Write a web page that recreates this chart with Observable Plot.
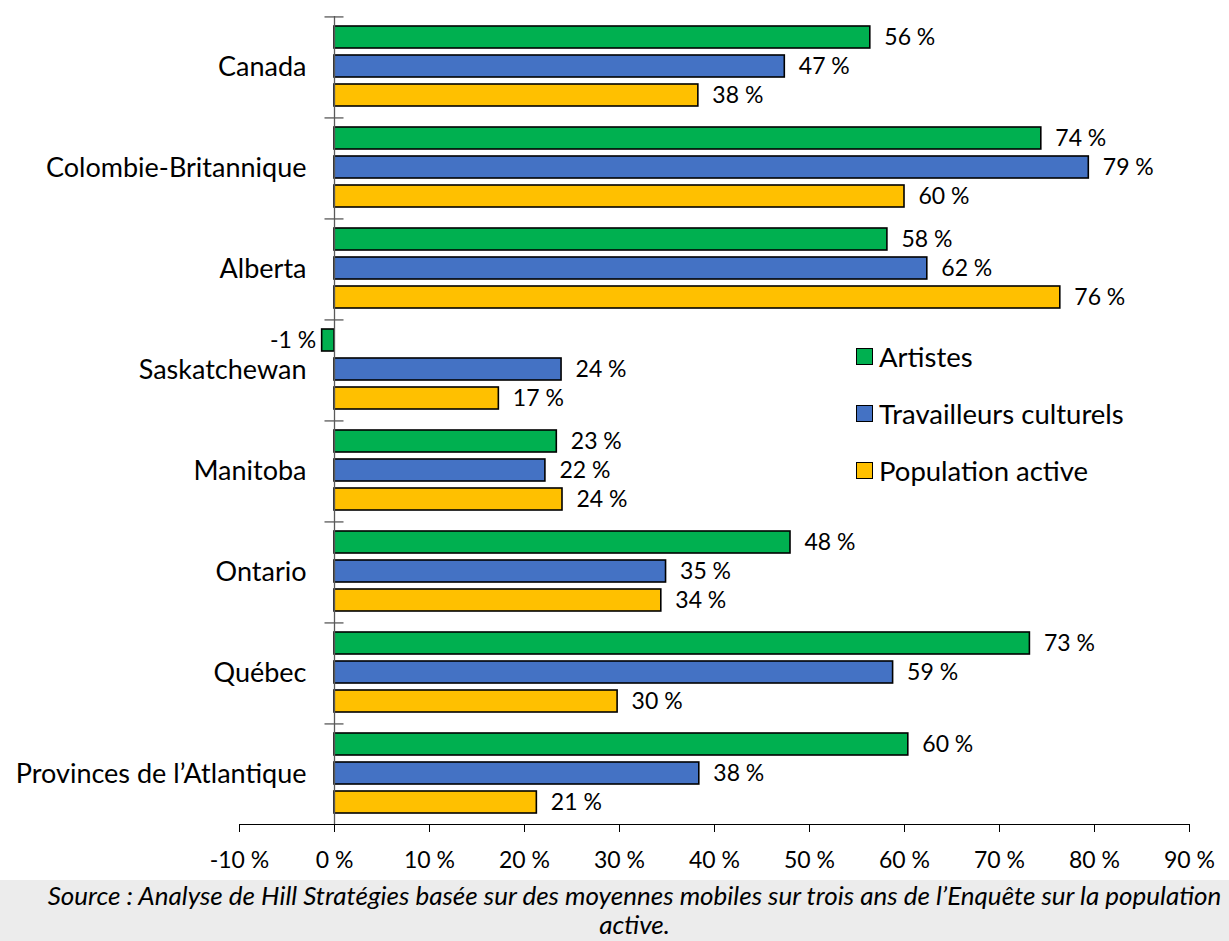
<!DOCTYPE html>
<html>
<head>
<meta charset="utf-8">
<script src="https://cdn.jsdelivr.net/npm/d3@7"></script>
<script src="https://cdn.jsdelivr.net/npm/@observablehq/plot@0.6"></script>
<style>
  body { margin: 0; background: white; }
  #wrap { position: relative; width: 1229px; font-family: Lato, "Open Sans", sans-serif; }
  #legend { position: absolute; left: 856px; top: 328px; font-size: 27.5px; color: #000; }
  .li { display: flex; align-items: center; height: 57px; }
  .sw { width: 15px; height: 15px; border: 1.5px solid #000; margin-right: 6px; }
  #caption { background: #ececec; width: 1229px; height: 61px; box-sizing: border-box; overflow: hidden;
             font-style: italic; font-size: 26px; line-height: 29px; text-align: center; color: #000; padding-top: 1px; }
  #caption div { transform: translateX(20px); white-space: nowrap; }
</style>
</head>
<body>
<div id="wrap">
  <div id="chart"></div>
  <div id="legend"></div>
  <div id="caption"><div>Source : Analyse de Hill Stratégies basée sur des moyennes mobiles sur trois ans de l’Enquête sur la population</div><div>active.</div></div>
</div>
<script>
const categories = ["Canada", "Colombie-Britannique", "Alberta", "Saskatchewan", "Manitoba", "Ontario", "Québec", "Provinces de l’Atlantique"];
const seriesNames = ["Artistes", "Travailleurs culturels", "Population active"];
const seriesColors = ["#00B050", "#4472C4", "#FFC000"];
const artistes   = [56.4, 74.4, 58.2, -1.3, 23.4, 48.0, 73.2, 60.4];
const travailleurs = [47.4, 79.4, 62.4, 23.9, 22.2, 34.9, 58.8, 38.4];
const population = [38.3, 60.0, 76.4, 17.3, 24.0, 34.4, 29.8, 21.3];
const xTicks = [-10, 0, 10, 20, 30, 40, 50, 60, 70, 80, 90];

const seriesValues = [artistes, travailleurs, population];
const rows = [];
categories.forEach((c, i) => seriesNames.forEach((s, j) => rows.push({category: c, series: s, value: seriesValues[j][i]})));

const W = 1229, H = 880, mt = 15, mb = 55, ml = 239, mr = 40;
const pIn = 0.23, pOut = 0.3;
const facetH = (H - mt - mb) / categories.length;
const step = facetH / (seriesNames.length - pIn + 2 * pOut);
const boundaryDy = -(step * pOut + step * (1 - pIn) / 2);
const axisColor = "#595959";

const chart = Plot.plot({
  width: W, height: H,
  marginTop: mt, marginBottom: mb, marginLeft: ml, marginRight: mr,
  style: {fontFamily: "Lato, 'Open Sans', sans-serif", fontSize: "23px", color: "#000", background: "white"},
  facet: {data: rows, y: "category", marginLeft: ml, marginRight: mr},
  fy: {domain: categories, padding: 0, axis: null},
  y: {domain: seriesNames, paddingInner: pIn, paddingOuter: pOut, axis: null},
  x: {domain: [-10, 90], ticks: xTicks, tickFormat: d => `${d} %`, tickSize: 8, tickPadding: 19, line: true, label: null},
  color: {domain: seriesNames, range: seriesColors},
  marks: [
    Plot.barX(rows, {x: "value", y: "series", fill: "series", stroke: "#000", strokeWidth: 1.6}),
    Plot.ruleX([0], {stroke: axisColor, strokeWidth: 1.3}),
    Plot.ruleY([seriesNames[0]], {x1: -1, x2: 1, stroke: axisColor, strokeWidth: 1.3, dy: boundaryDy}),
    Plot.text(rows, {filter: d => d.value >= 0, x: "value", y: "series", text: d => `${Math.round(d.value)} %`, textAnchor: "start", dx: 14, fill: "#000"}),
    Plot.text(rows, {filter: d => d.value < 0, x: "value", y: "series", text: d => `${Math.round(d.value)} %`, textAnchor: "end", dx: -6, fill: "#000"}),
    Plot.text(rows, {filter: d => d.series === seriesNames[0], x: 0, text: "category", frameAnchor: "middle", textAnchor: "end", dx: -28, fontSize: 27, fill: "#000"})
  ]
});
document.getElementById("chart").appendChild(chart);

const legend = document.getElementById("legend");
seriesNames.forEach((s, j) => {
  const li = document.createElement("div");
  li.className = "li";
  li.innerHTML = `<span class="sw" style="background:${seriesColors[j]}"></span><span>${s}</span>`;
  legend.appendChild(li);
});
</script>
</body>
</html>
